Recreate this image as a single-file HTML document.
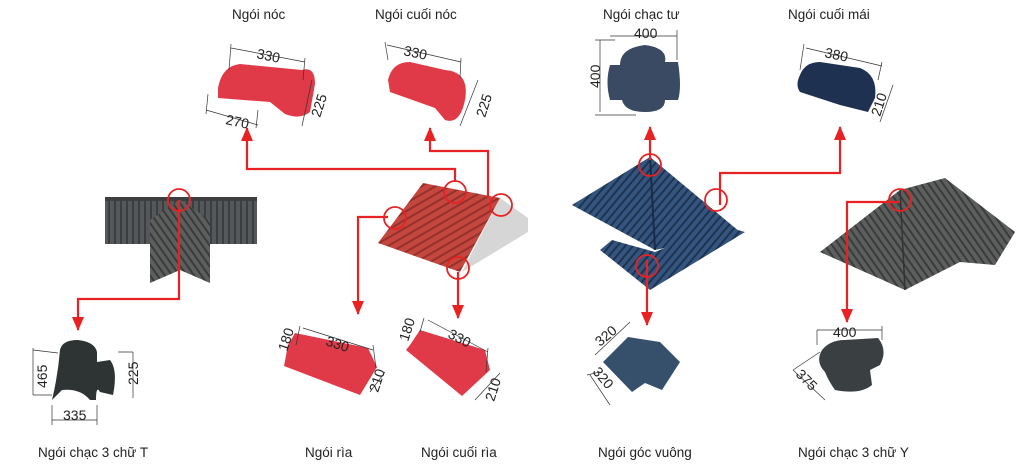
<!DOCTYPE html>
<html><head><meta charset="utf-8"><style>
html,body{margin:0;padding:0;background:#fff;}
svg{display:block}
text{font-family:"Liberation Sans",sans-serif;fill:#222;}
.l{font-size:13.5px}
.d{font-size:14px;fill:#111}
.dim{stroke:#333;stroke-width:.7;fill:none}
.r{stroke:#e82222;stroke-width:2.2;fill:none}
.c{stroke:#e82222;stroke-width:1.8;fill:none}
</style></head><body>
<svg width="1029" height="473" viewBox="0 0 1029 473" xmlns="http://www.w3.org/2000/svg">
<defs>
<pattern id="pg" width="6" height="10" patternUnits="userSpaceOnUse"><rect width="6" height="10" fill="#55585a"/><rect width="2" height="10" fill="#3b3d3f"/></pattern>
<pattern id="pr" width="8" height="7" patternUnits="userSpaceOnUse" patternTransform="rotate(-30)"><rect width="8" height="7" fill="#c4473f"/><rect width="8" height="2" fill="#96302b"/></pattern>
<pattern id="pb" width="6" height="6" patternUnits="userSpaceOnUse" patternTransform="rotate(40)"><rect width="6" height="6" fill="#35557e"/><rect width="2" height="6" fill="#1d3350"/></pattern>
<pattern id="pd" width="6" height="6" patternUnits="userSpaceOnUse" patternTransform="rotate(-35)"><rect width="6" height="6" fill="#5c5f5e"/><rect width="2" height="6" fill="#3a3c3c"/></pattern>
<marker id="ah" markerWidth="15" markerHeight="12" refX="13" refY="6" orient="auto" markerUnits="userSpaceOnUse"><path d="M0,0 L14,6 L0,12 Z" fill="#e82222"/></marker>
</defs>

<!-- labels -->
<text class="l" x="232" y="19">Ngói nóc</text>
<text class="l" x="375" y="19">Ngói cuối nóc</text>
<text class="l" x="603" y="19">Ngói chạc tư</text>
<text class="l" x="788" y="19">Ngói cuối mái</text>
<text class="l" x="38" y="457">Ngói chạc 3 chữ T</text>
<text class="l" x="305" y="457">Ngói rìa</text>
<text class="l" x="421" y="457">Ngói cuối rìa</text>
<text class="l" x="598" y="457">Ngói góc vuông</text>
<text class="l" x="798" y="457">Ngói chạc 3 chữ Y</text>

<!-- T roof -->
<rect x="105" y="198" width="152" height="46" fill="url(#pg)"/>
<rect x="105" y="197" width="152" height="4" fill="#3c3e3f"/>
<polygon points="150,220 180,200 210,220 210,283 180,270 150,283" fill="url(#pd)"/>
<!-- red roof -->
<polygon points="500,198 528,218 528,232 462,272" fill="#d6d6d6"/>
<polygon points="378,243 423,183 500,198 460,272" fill="url(#pr)"/>
<!-- blue roofs -->
<polygon points="572,205 650,157 740,232 655,250" fill="url(#pb)"/>
<line x1="650" y1="157" x2="655" y2="250" stroke="#1a2b45" stroke-width="2"/>
<polygon points="600,250 612,240 655,252 720,225 745,232 650,290" fill="url(#pb)"/>
<!-- gray Y roof -->
<polygon points="820,252 900,190 945,178 1015,232 995,265 960,262 905,290" fill="url(#pd)"/>
<line x1="900" y1="190" x2="905" y2="290" stroke="#333" stroke-width="1.5"/>

<!-- products -->
<path d="M218,88 Q222,66 240,64 L302,70 Q315,66 315,84 L310,112 Q300,120 285,114 L270,102 L218,98 Z" fill="#e03a48"/>
<path d="M388,80 Q392,62 410,62 L445,70 Q470,72 465,100 Q460,125 445,120 L435,108 L390,92 Z" fill="#e03a48"/>
<path d="M610,65 L620,65 Q620,48 645,45 Q668,48 665,62 L678,62 Q682,88 678,100 L665,100 Q665,112 645,112 Q625,112 622,100 L610,100 Q605,82 610,65 Z" fill="#3a4a63"/>
<path d="M800,75 Q805,62 820,62 L860,68 Q878,75 875,98 L868,112 L840,105 L800,92 Q795,85 800,75 Z" fill="#1f3150"/>
<path d="M60,350 Q62,340 78,340 Q95,342 97,352 L97,362 L110,360 Q118,370 113,395 L100,392 Q96,385 96,400 L90,400 Q80,388 62,390 L52,400 Q58,375 60,350 Z" fill="#2e3434"/>
<polygon points="288,345 295,333 368,348 377,367 360,395 284,366" fill="#e03a48"/>
<polygon points="410,345 420,330 485,350 490,370 462,396 406,350" fill="#e03a48"/>
<polygon points="603,362 628,337 660,342 680,362 662,390 645,383 632,392" fill="#36506c"/>
<path d="M822,350 Q830,340 845,340 L878,338 Q888,350 880,365 L870,370 L872,385 Q860,395 835,390 Q828,380 825,372 Q815,362 822,350 Z" fill="#3a3f42"/>

<!-- dimension lines -->
<g class="dim">
<path d="M231,48 L305,62 M231,44 L229,70 M305,58 L303,80 M312,80 L302,126 M206,110 L258,125 M208,94 L206,114 M258,110 L256,128"/>
<path d="M387,45 L461,62 M385,42 L388,60 M461,58 L460,78 M478,80 L460,126"/>
<path d="M610,36 L677,36 M600,40 L600,112 M595,115 L636,115 M595,40 L615,40 M677,30 L677,60"/>
<path d="M806,48 L882,66 M804,44 L800,70 M882,62 L878,80 M893,85 L880,122"/>
<path d="M33,348 L33,395 M33,350 L58,353 M33,395 L52,395 M133,352 L133,398 M118,352 L133,352 M52,420 L97,420 M52,405 L52,425 M97,405 L97,425"/>
<path d="M303,328 L373,350 M300,326 L296,345 M373,345 L376,368 M370,392 L385,372"/>
<path d="M428,320 L488,352 M424,318 L420,332 M488,348 L486,372 M475,400 L500,373"/>
<path d="M595,355 L630,322 M590,375 L610,405 M587,375 L600,372"/>
<path d="M817,330 L882,330 M817,330 L817,345 M882,326 L882,340 M793,370 L825,400 M793,370 L820,352"/>
</g>
<g class="d">
<text x="256" y="58" transform="rotate(12 256 58)">330</text>
<text x="225" y="124" transform="rotate(12 225 124)">270</text>
<text x="320" y="118" transform="rotate(-72 320 118)">225</text>
<text x="403" y="55" transform="rotate(12 403 55)">330</text>
<text x="485" y="118" transform="rotate(-72 485 118)">225</text>
<text x="634" y="38">400</text>
<text x="600" y="88" transform="rotate(-90 600 88)">400</text>
<text x="824" y="57" transform="rotate(12 824 57)">380</text>
<text x="880" y="117" transform="rotate(-72 880 117)">210</text>
<text x="47" y="388" transform="rotate(-90 47 388)">465</text>
<text x="138" y="385" transform="rotate(-90 138 385)">225</text>
<text x="63" y="420">335</text>
<text x="287" y="352" transform="rotate(-72 287 352)">180</text>
<text x="325" y="345" transform="rotate(18 325 345)">330</text>
<text x="378" y="393" transform="rotate(-72 378 393)">210</text>
<text x="408" y="342" transform="rotate(-72 408 342)">180</text>
<text x="447" y="337" transform="rotate(28 447 337)">330</text>
<text x="494" y="402" transform="rotate(-72 494 402)">210</text>
<text x="600" y="347" transform="rotate(-40 600 347)">320</text>
<text x="592" y="372" transform="rotate(50 592 372)">320</text>
<text x="833" y="337">400</text>
<text x="795" y="375" transform="rotate(45 795 375)">375</text>
</g>

<!-- red connectors -->
<g class="r">
<path d="M455,182 L455,169 L247,169 L247,128" marker-end="url(#ah)"/>
<path d="M488,198 L488,151 L430,151 L430,128" marker-end="url(#ah)"/>
<path d="M179,200 L179,299 L78,299 L78,330" marker-end="url(#ah)"/>
<path d="M388,217 L358,217 L358,314" marker-end="url(#ah)"/>
<path d="M458,272 L458,318" marker-end="url(#ah)"/>
<path d="M650,160 L650,127" marker-end="url(#ah)"/>
<path d="M720,205 L720,173 L840,173 L840,127" marker-end="url(#ah)"/>
<path d="M647,260 L647,325" marker-end="url(#ah)"/>
<path d="M900,202 L847,202 L847,322" marker-end="url(#ah)"/>
</g>
<g class="c">
<circle cx="179" cy="200" r="11"/>
<circle cx="455" cy="192" r="11"/>
<circle cx="501" cy="205" r="11"/>
<circle cx="395" cy="218" r="11"/>
<circle cx="458" cy="268" r="11"/>
<circle cx="650" cy="165" r="11"/>
<circle cx="716" cy="200" r="11"/>
<circle cx="647" cy="266" r="11"/>
<circle cx="900" cy="200" r="11"/>
</g>
</svg>
</body></html>
